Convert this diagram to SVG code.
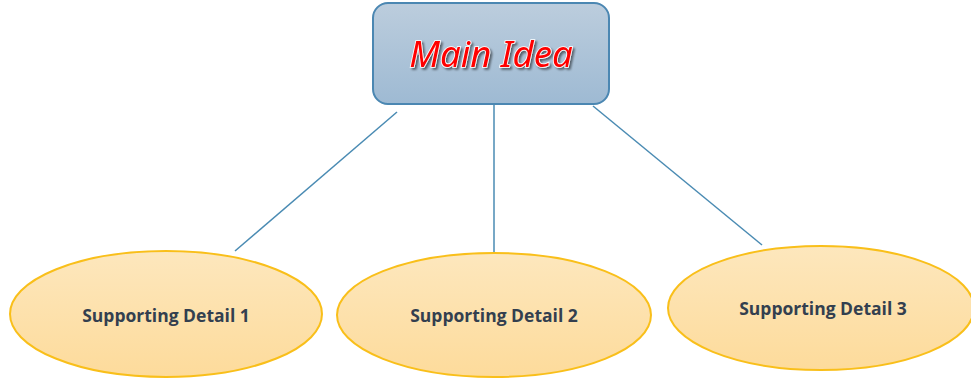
<svg xmlns="http://www.w3.org/2000/svg" width="971" height="381" viewBox="0 0 971 381">
<defs>
<linearGradient id="boxg" x1="0" y1="0" x2="0" y2="1">
<stop offset="0" stop-color="#bccddd"/>
<stop offset="1" stop-color="#9ebad3"/>
</linearGradient>
<linearGradient id="ellg" x1="0" y1="0" x2="0" y2="1">
<stop offset="0" stop-color="#fde7bd"/>
<stop offset="1" stop-color="#fddb9b"/>
</linearGradient>
<filter id="sh" x="-10%" y="-30%" width="130%" height="160%">
<feGaussianBlur in="SourceAlpha" stdDeviation="1.2"/>
<feOffset dx="2" dy="2" result="b"/>
<feComponentTransfer><feFuncA type="linear" slope="0.5"/></feComponentTransfer>
<feMerge><feMergeNode/><feMergeNode in="SourceGraphic"/></feMerge>
</filter>
</defs>
<style>
.conn{stroke:#4a8bb3;stroke-width:1.5;fill:none}
.ell{fill:url(#ellg);stroke:#f9bf1a;stroke-width:2}
.det{font-family:"Open Sans","Liberation Sans",sans-serif;font-weight:bold;font-size:17.5px;fill:#333f4f;text-anchor:middle}
.main{font-family:"Noto Sans","Open Sans",sans-serif;font-style:italic;font-size:36.5px;fill:#ff0000;stroke:#ffffff;stroke-width:1.6;paint-order:stroke;text-anchor:middle}
</style>
<g id="connectors">
<line class="conn" x1="397" y1="112" x2="235" y2="251"/>
<line class="conn" x1="494" y1="104" x2="494" y2="252"/>
<line class="conn" x1="593" y1="106" x2="762" y2="245"/>
</g>
<g id="main-idea">
<rect x="373" y="3" width="236" height="101" rx="15" ry="15" fill="url(#boxg)" stroke="#4b87b2" stroke-width="2"/>
<text class="main" x="491" y="67" filter="url(#sh)">Main Idea</text>
</g>
<g id="detail1">
<ellipse class="ell" cx="166" cy="314" rx="156" ry="63"/>
<text class="det" x="166" y="322">Supporting Detail 1</text>
</g>
<g id="detail2">
<ellipse class="ell" cx="494" cy="315" rx="157" ry="62"/>
<text class="det" x="494" y="322">Supporting Detail 2</text>
</g>
<g id="detail3">
<ellipse class="ell" cx="821" cy="308" rx="153" ry="62"/>
<text class="det" x="823" y="315">Supporting Detail 3</text>
</g>
</svg>
